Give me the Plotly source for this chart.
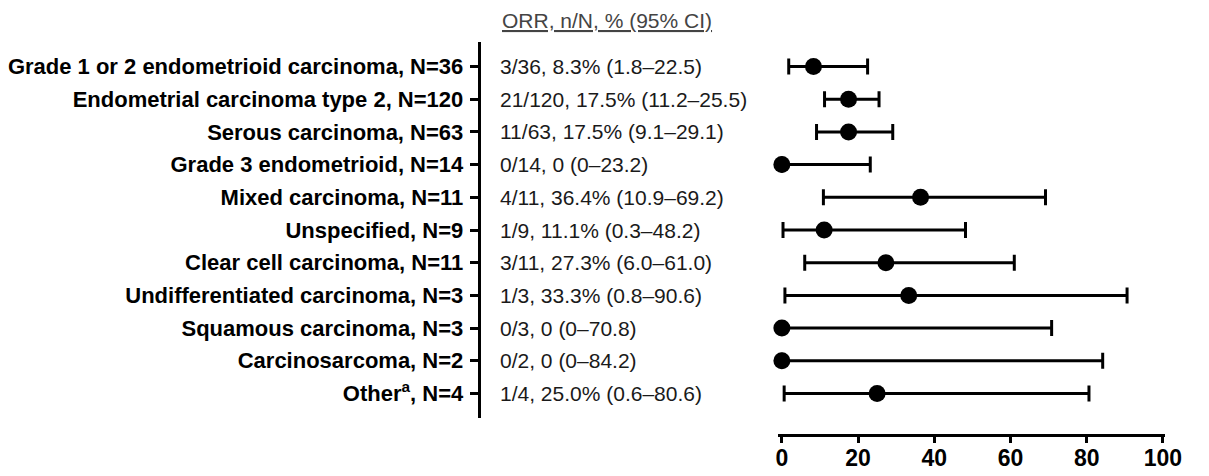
import plotly.graph_objects as go

labels = [
    "Grade 1 or 2 endometrioid carcinoma, N=36",
    "Endometrial carcinoma type 2, N=120",
    "Serous carcinoma, N=63",
    "Grade 3 endometrioid, N=14",
    "Mixed carcinoma, N=11",
    "Unspecified, N=9",
    "Clear cell carcinoma, N=11",
    "Undifferentiated carcinoma, N=3",
    "Squamous carcinoma, N=3",
    "Carcinosarcoma, N=2",
    "Other<sup>a</sup>, N=4",
]
orr_text = [
    "3/36, 8.3% (1.8–22.5)",
    "21/120, 17.5% (11.2–25.5)",
    "11/63, 17.5% (9.1–29.1)",
    "0/14, 0 (0–23.2)",
    "4/11, 36.4% (10.9–69.2)",
    "1/9, 11.1% (0.3–48.2)",
    "3/11, 27.3% (6.0–61.0)",
    "1/3, 33.3% (0.8–90.6)",
    "0/3, 0 (0–70.8)",
    "0/2, 0 (0–84.2)",
    "1/4, 25.0% (0.6–80.6)",
]
orr = [8.3, 17.5, 17.5, 0, 36.4, 11.1, 27.3, 33.3, 0, 0, 25.0]
ci_low = [1.8, 11.2, 9.1, 0, 10.9, 0.3, 6.0, 0.8, 0, 0, 0.6]
ci_high = [22.5, 25.5, 29.1, 23.2, 69.2, 48.2, 61.0, 90.6, 70.8, 84.2, 80.6]
x_ticks = [0, 20, 40, 60, 80, 100]
header = "ORR, n/N, % (95% CI)"

# page body has an 8px margin, so the figure is a little smaller than the window
W, H = 1201, 468
FONT = "Liberation Sans, Arial, sans-serif"

err_plus = [h - v for h, v in zip(ci_high, orr)]
err_minus = [v - l for v, l in zip(orr, ci_low)]

fig = go.Figure()
# helper (empty) trace so the anchor axes x2 / y2 exist
fig.add_trace(go.Scatter(x=[], y=[], xaxis="x2", yaxis="y2",
                         showlegend=False, hoverinfo="skip"))
fig.add_trace(go.Scatter(
    x=orr, y=labels, mode="markers",
    marker=dict(color="black", size=17, symbol="circle"),
    error_x=dict(type="data", symmetric=False, array=err_plus, arrayminus=err_minus,
                 color="black", thickness=3, width=8),
    cliponaxis=False, showlegend=False, hoverinfo="skip",
))

for lab, t in zip(labels, orr_text):
    fig.add_annotation(x=487 / W, xref="paper", y=lab, yref="y", text=t,
                       showarrow=False, xanchor="left", yanchor="middle",
                       font=dict(family=FONT, size=21, color="#1a1a1a"))

fig.add_annotation(x=489 / W, xref="paper", y=1 - 12 / H, yref="paper",
                   text="<u>" + header + "</u>", showarrow=False,
                   xanchor="left", yanchor="middle",
                   font=dict(family=FONT, size=21, color="#444444"))

fig.update_layout(
    width=W, height=H,
    margin=dict(l=0, r=0, t=0, b=0),
    plot_bgcolor="rgba(0,0,0,0)", paper_bgcolor="white",
    xaxis=dict(domain=[775 / W, 1173 / W], range=[-1, 100.5],
               anchor="y2",
               tickmode="array", tickvals=x_ticks, ticks="outside", ticklen=6, tickwidth=3,
               tickcolor="black", showline=True, linewidth=3, linecolor="black",
               showgrid=False, zeroline=False, ticklabelstandoff=-4,
               tickfont=dict(family=FONT, size=23, color="black", weight="bold")),
    yaxis=dict(domain=[1 - 410 / H, 1 - 34 / H], type="category",
               categoryorder="array", categoryarray=labels,
               range=[10.75, -0.75], anchor="x2",
               ticks="outside", ticklen=8, tickwidth=3, tickcolor="black",
               showline=True, linewidth=3, linecolor="black",
               showgrid=False, zeroline=False, ticklabelstandoff=2,
               tickfont=dict(family=FONT, size=22, color="black", weight="bold")),
    xaxis2=dict(domain=[469 / W, 1173 / W], anchor="y2", visible=False,
                showgrid=False, zeroline=False),
    yaxis2=dict(domain=[1 - 425.5 / H, 1 - 34 / H], anchor="x2", visible=False,
                showgrid=False, zeroline=False),
)

fig.write_html("out.html")
